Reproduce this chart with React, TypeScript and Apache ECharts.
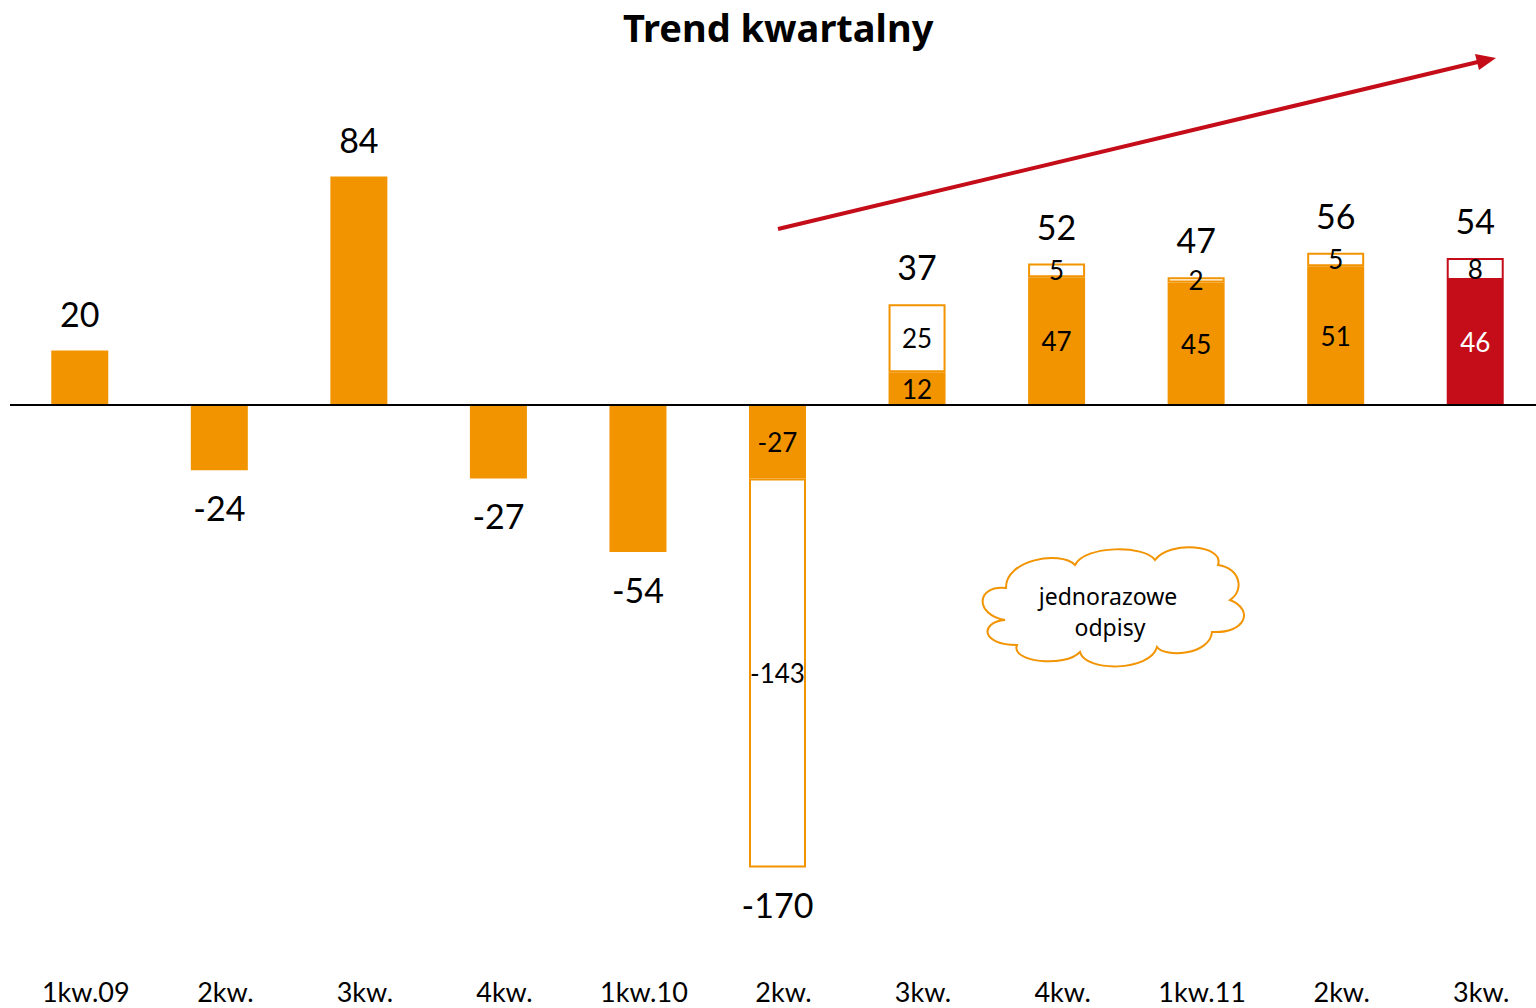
import React, { useEffect, useRef } from "react";
import * as echarts from "echarts";

const categories = ["1kw.09", "2kw.", "3kw.", "4kw.", "1kw.10", "2kw.", "3kw.", "4kw.", "1kw.11", "2kw.", "3kw."];
const baseValues = [20, -24, 84, -27, -54, -27, 12, 47, 45, 51, 46];
const oneOffValues: (number | null)[] = [null, null, null, null, null, -143, 25, 5, 2, 5, 8];
const totals = [20, -24, 84, -27, -54, -170, 37, 52, 47, 56, 54];
const highlightIndex = 10;

const ORANGE = "#F29400";
const RED = "#C50D1A";
const NUM_FONT = "Lato";
const TITLE_FONT = "Noto Sans";

const cloudPath =
  "M 1005 620 C 975 615 975 585 1006 588 C 1005 560 1060 550 1075 565 " +
  "C 1085 545 1145 545 1155 560 C 1170 540 1225 545 1218 565 " +
  "C 1240 568 1245 590 1230 600 C 1255 610 1245 634 1212 632 " +
  "C 1210 655 1165 658 1157 647 C 1150 672 1085 672 1080 652 " +
  "C 1065 668 1010 662 1017 645 C 980 645 980 622 1005 620 Z";

let registered = false;

export default function App() {
  const ref = useRef<HTMLDivElement>(null);
  useEffect(() => {
    if (!registered) {
      echarts.graphic.registerShape("cloud", echarts.graphic.extendPath(cloudPath, {}) as any);
      registered = true;
    }
    const chart = echarts.init(ref.current!, null, { renderer: "svg" });
    const option: any = {
      animation: false,
      backgroundColor: "#fff",
      title: {
        text: "Trend kwartalny",
        left: 618,
        top: 3,
        textStyle: { fontFamily: TITLE_FONT, fontWeight: "bold", fontSize: 38, color: "#000" },
      },
      grid: { left: 10, right: 0, top: 51.4, bottom: 59, containLabel: false },
      xAxis: {
        type: "category",
        data: categories,
        axisLine: { show: false },
        axisTick: { show: false },
        axisLabel: {
          fontFamily: NUM_FONT,
          fontSize: 27,
          color: "#000",
          margin: 29,
          padding: [0, 0, 0, 12],
          interval: 0,
        },
      },
      yAxis: {
        type: "value",
        min: -200,
        max: 130,
        show: false,
        splitLine: { show: false },
      },
      series: [
        {
          type: "bar",
          name: "base",
          stack: "q",
          barWidth: 57,
          itemStyle: { color: ORANGE },
          label: {
            show: true,
            position: "inside",
            fontFamily: NUM_FONT,
            fontSize: 26,
            color: "#000",
          },
          data: baseValues.map((v, i) => ({
            value: v,
            itemStyle: i === highlightIndex ? { color: RED } : undefined,
            label: { show: oneOffValues[i] != null, color: i === highlightIndex ? "#fff" : "#000" },
          })),
          markLine: {
            silent: true,
            symbol: ["none", "none"],
            label: { show: false },
            lineStyle: { color: "#000", width: 2, type: "solid" },
            data: [{ yAxis: 0 }],
          },
        },
        {
          type: "bar",
          name: "odpisy",
          stack: "q",
          barWidth: 57,
          itemStyle: { color: "#fff", borderColor: ORANGE, borderWidth: 2 },
          label: {
            show: true,
            position: "inside",
            fontFamily: NUM_FONT,
            fontSize: 26,
            color: "#000",
          },
          data: oneOffValues.map((v, i) =>
            v == null
              ? "-"
              : i === highlightIndex
              ? { value: v, itemStyle: { borderColor: RED } }
              : v
          ),
        },
        {
          type: "scatter",
          name: "suma",
          symbolSize: 1,
          itemStyle: { color: "rgba(0,0,0,0)", opacity: 1 },
          label: {
            show: true,
            fontFamily: NUM_FONT,
            fontSize: 34,
            color: "#000",
            distance: 20,
          },
          data: totals.map((t) => ({ value: t, label: { position: t >= 0 ? "top" : "bottom" } })),
          z: 5,
        },
      ],
      graphic: [
        {
          type: "line",
          shape: { x1: 778, y1: 229, x2: 1482, y2: 61 },
          style: { stroke: RED, lineWidth: 4 },
        },
        {
          type: "polygon",
          shape: { points: [[1496, 58], [1479, 70], [1475, 54]] },
          style: { fill: RED },
        },
        {
          type: "cloud",
          x: 0,
          y: 0,
          style: { fill: "#fff", stroke: ORANGE, lineWidth: 2 },
        },
        {
          type: "text",
          x: 1108,
          y: 596,
          style: {
            text: "jednorazowe",
            fontFamily: TITLE_FONT,
            fontSize: 23,
            fill: "#000",
            align: "center",
            verticalAlign: "middle",
          },
        },
        {
          type: "text",
          x: 1110,
          y: 627,
          style: {
            text: "odpisy",
            fontFamily: TITLE_FONT,
            fontSize: 23,
            fill: "#000",
            align: "center",
            verticalAlign: "middle",
          },
        },
      ],
    };
    chart.setOption(option);
    return () => chart.dispose();
  }, []);
  return (
    <div
      ref={ref}
      style={{ position: "fixed", left: 0, top: 0, width: 1545, height: 1008, background: "#fff" }}
    />
  );
}
